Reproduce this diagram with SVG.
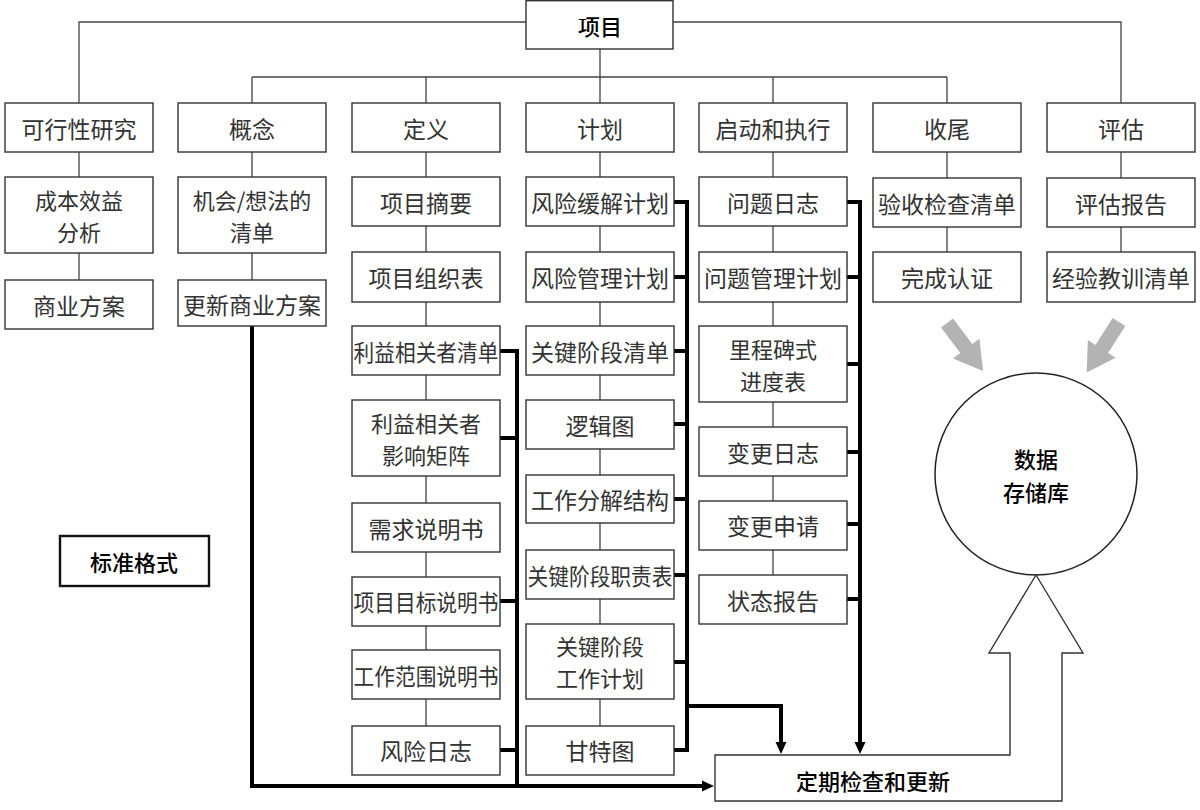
<svg xmlns="http://www.w3.org/2000/svg" width="1200" height="810" viewBox="0 0 1200 810">
<style>
.box{fill:#fff;stroke:#333;stroke-width:1.4}
.t{font-family:"Noto Sans CJK SC","Noto Sans CJK JP",sans-serif;font-size:23px;fill:#333;text-anchor:middle;dominant-baseline:central}
.t2{font-size:22px}
.h{font-family:"Noto Sans CJK SC","Noto Sans CJK JP",sans-serif;font-size:22px;fill:#000;font-weight:500;text-anchor:middle;dominant-baseline:central}
.thin{stroke:#444;stroke-width:1.3;fill:none}
.thick{stroke:#000;stroke-width:4;fill:none;stroke-linejoin:miter}
.gray{fill:#b3b3b3}
</style>
<defs>
<marker id="ah" markerUnits="userSpaceOnUse" markerWidth="14" markerHeight="14" refX="0" refY="6" orient="auto" viewBox="0 0 14 12">
<path d="M0,0.5 L12,6 L0,11.5 z" fill="#000"/>
</marker>
</defs>
<rect width="1200" height="810" fill="#fff"/>

<g id="connectors">
<path class="thin" d="M526 22 H79 V103 M673 22 H1121 V103 M600 49 V103 M252 77 H947 M252 77 V103 M426 77 V103 M773 77 V103 M947 77 V103"/>
<path class="thin" d="M79 152 V177 M79 253 V280 M252 152 V177 M252 253 V280"/>
<path class="thin" d="M426 152 V177 M426 226 V252 M426 302 V326 M426 375 V400 M426 476 V503 M426 552 V577 M426 626 V650 M426 699 V726"/>
<path class="thin" d="M600 152 V177 M600 226 V252 M600 302 V326 M600 375 V400 M600 449 V475 M600 523 V550 M600 599 V624 M600 699 V726"/>
<path class="thin" d="M773 152 V177 M773 226 V252 M773 302 V326 M773 402 V427 M773 476 V501 M773 550 V575"/>
<path class="thin" d="M947 152 V178 M947 227 V252 M1121 152 V178 M1121 227 V252"/>
<path class="thick" d="M252 326 V786 H702" marker-end="url(#ah)"/>
<path class="thick" d="M500 351 H517 V786 M500 438 H517 M500 601 H517 M500 750 H517"/>
<path class="thick" d="M674 202 H687 V750 H674 M674 277 H687 M674 351 H687 M674 424 H687 M674 499 H687 M674 575 H687 M674 662 H687"/>
<path class="thick" d="M687 706 H781 V742" marker-end="url(#ah)"/>
<path class="thick" d="M847 202 H860 V742" marker-end="url(#ah)"/>
<path class="thick" d="M847 277 H860 M847 364 H860 M847 452 H860 M847 524 H860 M847 599 H860"/>
<polygon class="gray" points="0,-7.5 32,-7.5 32,-16.5 60,0 32,16.5 32,7.5 0,7.5" transform="translate(947,323) rotate(53)"/>
<polygon class="gray" points="0,-7.5 32,-7.5 32,-16.5 60,0 32,16.5 32,7.5 0,7.5" transform="translate(1119,322) rotate(122.6)"/>
</g>

<g id="n-project"><rect class="box" x="526" y="0.7" width="147" height="48.3"/><text class="h" x="600" y="25">项目</text></g>

<g id="n-feasibility"><rect class="box" x="5" y="103" width="148" height="49"/><text class="t" x="79" y="128">可行性研究</text></g>
<g id="n-concept"><rect class="box" x="178" y="103" width="148" height="49"/><text class="t" x="252" y="128">概念</text></g>
<g id="n-definition"><rect class="box" x="352" y="103" width="148" height="49"/><text class="t" x="426" y="128">定义</text></g>
<g id="n-plan"><rect class="box" x="526" y="103" width="148" height="49"/><text class="t" x="600" y="128">计划</text></g>
<g id="n-execute"><rect class="box" x="699" y="103" width="148" height="49"/><text class="t" x="773" y="128">启动和执行</text></g>
<g id="n-close"><rect class="box" x="873" y="103" width="148" height="49"/><text class="t" x="947" y="128">收尾</text></g>
<g id="n-evaluate"><rect class="box" x="1047" y="103" width="148" height="49"/><text class="t" x="1121" y="128">评估</text></g>

<g id="n-cba"><rect class="box" x="5" y="177" width="148" height="76"/><text class="t t2" x="79" y="199">成本效益</text><text class="t t2" x="79" y="231">分析</text></g>
<g id="n-bcase"><rect class="box" x="5" y="280" width="148" height="49"/><text class="t" x="79" y="305">商业方案</text></g>

<g id="n-ideas"><rect class="box" x="178" y="177" width="148" height="76"/><text class="t t2" x="252" y="199">机会/想法的</text><text class="t t2" x="252" y="231">清单</text></g>
<g id="n-ubcase"><rect class="box" x="178" y="280" width="148" height="46"/><text class="t" x="252" y="304">更新商业方案</text></g>

<g id="n-summary"><rect class="box" x="352" y="177" width="148" height="49"/><text class="t" x="426" y="202">项目摘要</text></g>
<g id="n-org"><rect class="box" x="352" y="252" width="148" height="50"/><text class="t" x="426" y="277">项目组织表</text></g>
<g id="n-stakelist"><rect class="box" x="352" y="326" width="148" height="49"/><text class="t" x="426" y="351" textLength="145" lengthAdjust="spacingAndGlyphs">利益相关者清单</text></g>
<g id="n-matrix"><rect class="box" x="352" y="400" width="148" height="76"/><text class="t t2" x="426" y="422">利益相关者</text><text class="t t2" x="426" y="454">影响矩阵</text></g>
<g id="n-req"><rect class="box" x="352" y="503" width="148" height="49"/><text class="t" x="426" y="528">需求说明书</text></g>
<g id="n-goal"><rect class="box" x="352" y="577" width="148" height="49"/><text class="t" x="426" y="601" textLength="145" lengthAdjust="spacingAndGlyphs">项目目标说明书</text></g>
<g id="n-scope"><rect class="box" x="352" y="650" width="148" height="49"/><text class="t" x="426" y="675" textLength="145" lengthAdjust="spacingAndGlyphs">工作范围说明书</text></g>
<g id="n-risklog"><rect class="box" x="352" y="726" width="148" height="49"/><text class="t" x="426" y="750">风险日志</text></g>

<g id="n-mitigation"><rect class="box" x="526" y="177" width="148" height="49"/><text class="t" x="600" y="202">风险缓解计划</text></g>
<g id="n-riskplan"><rect class="box" x="526" y="252" width="148" height="50"/><text class="t" x="600" y="277">风险管理计划</text></g>
<g id="n-milelist"><rect class="box" x="526" y="326" width="148" height="49"/><text class="t" x="600" y="351">关键阶段清单</text></g>
<g id="n-logic"><rect class="box" x="526" y="400" width="148" height="49"/><text class="t" x="600" y="425">逻辑图</text></g>
<g id="n-wbs"><rect class="box" x="526" y="475" width="148" height="48"/><text class="t" x="600" y="499">工作分解结构</text></g>
<g id="n-raci"><rect class="box" x="526" y="550" width="148" height="49"/><text class="t" x="600" y="575" textLength="145" lengthAdjust="spacingAndGlyphs">关键阶段职责表</text></g>
<g id="n-workplan"><rect class="box" x="526" y="624" width="148" height="75"/><text class="t t2" x="600" y="645">关键阶段</text><text class="t t2" x="600" y="677">工作计划</text></g>
<g id="n-gantt"><rect class="box" x="526" y="726" width="148" height="49"/><text class="t" x="600" y="750">甘特图</text></g>

<g id="n-issuelog"><rect class="box" x="699" y="177" width="148" height="49"/><text class="t" x="773" y="202">问题日志</text></g>
<g id="n-issueplan"><rect class="box" x="699" y="252" width="148" height="50"/><text class="t" x="773" y="277">问题管理计划</text></g>
<g id="n-milesched"><rect class="box" x="699" y="326" width="148" height="76"/><text class="t t2" x="773" y="348">里程碑式</text><text class="t t2" x="773" y="380">进度表</text></g>
<g id="n-chglog"><rect class="box" x="699" y="427" width="148" height="49"/><text class="t" x="773" y="452">变更日志</text></g>
<g id="n-chgreq"><rect class="box" x="699" y="501" width="148" height="49"/><text class="t" x="773" y="525">变更申请</text></g>
<g id="n-status"><rect class="box" x="699" y="575" width="148" height="49"/><text class="t" x="773" y="600">状态报告</text></g>

<g id="n-accept"><rect class="box" x="873" y="178" width="148" height="49"/><text class="t" x="947" y="203">验收检查清单</text></g>
<g id="n-cert"><rect class="box" x="873" y="252" width="148" height="50"/><text class="t" x="947" y="277">完成认证</text></g>

<g id="n-evalrep"><rect class="box" x="1047" y="178" width="148" height="49"/><text class="t" x="1121" y="203">评估报告</text></g>
<g id="n-lessons"><rect class="box" x="1047" y="252" width="148" height="50"/><text class="t" x="1121" y="277">经验教训清单</text></g>

<g id="n-standard"><rect x="60" y="536" width="149" height="50" fill="#fff" stroke="#111" stroke-width="2.4"/><text class="h" x="134" y="561">标准格式</text></g>

<g id="n-repository"><circle cx="1036" cy="474" r="101" fill="#fff" stroke="#222" stroke-width="1.5"/><text class="h" x="1036" y="458">数据</text><text class="h" x="1036" y="491">存储库</text></g>

<g id="n-review"><path class="box" d="M715 755 H1010 V653 H989 L1036 575 L1083 653 H1062 V801 H715 Z"/><text class="h" x="873" y="780">定期检查和更新</text></g>
</svg>
